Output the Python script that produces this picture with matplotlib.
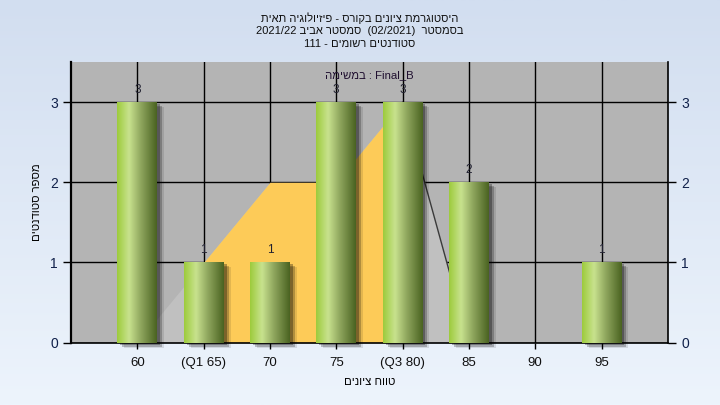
import re
import numpy as np
import matplotlib
matplotlib.use('Agg')
import matplotlib.pyplot as plt
from matplotlib.colors import LinearSegmentedColormap
from matplotlib.patches import Rectangle
from matplotlib import transforms

plt.rcParams['font.family'] = ['Liberation Sans', 'DejaVu Sans']

# data
categories = ['60', '(Q1 65)', '70', '75', '(Q3 80)', '85', '90', '95']
counts = [3, 1, 1, 3, 3, 2, 0, 1]
curve = [0, 1, 2, 2, 3, 0, 0, 0]
q1_idx = 1
q3_idx = 4

title_lines = ['היסטוגרמת ציונים בקורס - פיזיולוגיה תאית',
               'בסמסטר  (02/2021)  סמסטר אביב 2021/22',
               'סטודנטים רשומים - 111']
task_label = 'Final_B : במשימה'
x_title = 'טווח ציונים'
y_title = 'מספר סטודנטים'


def vis(s):
    # matplotlib has no bidi support, so put hebrew into visual order
    r = s[::-1]
    r = re.sub(r'[0-9A-Za-z_/.]+', lambda m: m.group(0)[::-1], r)
    return r.translate(str.maketrans('()', ')('))


fig = plt.figure(figsize=(7.2, 4.05), dpi=100)

# light blue background gradient
bg = fig.add_axes([0, 0, 1, 1], zorder=-10)
bg_cmap = LinearSegmentedColormap.from_list('bg', ['#d2def0', '#edf4fc'])
bg.imshow(np.linspace(0, 1, 256).reshape(-1, 1), cmap=bg_cmap, aspect='auto',
          extent=[0, 1, 0, 1])
bg.axis('off')

ax = fig.add_axes([0.0986, 0.154, 0.829, 0.6926])
ax.set_facecolor('#b4b4b4')

x = np.arange(len(categories))
cv = np.array(curve, dtype=float)

# curve area behind bars
ax.fill_between(x, 0, cv, color='#c0c0c0', lw=0, zorder=1)
mid = (x >= q1_idx) & (x <= q3_idx)
ax.fill_between(x[mid], 0, cv[mid], color='#fdcb58', lw=0, zorder=1.1)
ax.plot(x[q3_idx:q3_idx + 2], cv[q3_idx:q3_idx + 2], color='#3a3a3a', lw=1, zorder=1.2)

bar_cmap = LinearSegmentedColormap.from_list(
    'bar', [(0, '#9dcb3c'), (0.3, '#c8e28e'), (0.6, '#8fa65e'), (1, '#4a6321')])
grad = np.linspace(0, 1, 128).reshape(1, -1)

width = 0.6
bars = ax.bar(x, counts, width=width, color='none', zorder=3)
for b, c in zip(bars, counts):
    if c == 0:
        continue
    x0, w, h = b.get_x(), b.get_width(), b.get_height()
    # soft drop shadow
    for dx, dy, a in [(7, -5, 0.10), (5, -4, 0.22), (3, -2, 0.3)]:
        off = transforms.offset_copy(ax.transData, fig=fig, x=dx, y=dy, units='dots')
        ax.add_patch(Rectangle((x0, 0), w, h, transform=off, color='black',
                               alpha=a, lw=0, zorder=2, clip_on=False))
    ax.imshow(grad, cmap=bar_cmap, aspect='auto', extent=[x0, x0 + w, 0, h],
              zorder=3, interpolation='bilinear')
    ax.text(b.get_x() + w / 2, h + 0.15, str(c), ha='center', va='center',
            fontsize=8.5, color='#202030', zorder=5)

ax.set_xlim(-1, 8)
ax.set_ylim(0, 3.5)
ax.set_xticks(x)
ax.set_xticklabels(categories, fontsize=9.5, color='#101010')
ax.set_yticks([0, 1, 2, 3])
ax.tick_params(axis='y', labelsize=10, labelcolor='#10204a', length=6, width=1,
               right=True, labelright=True, direction='out')
ax.tick_params(axis='x', length=4, width=1, direction='out', pad=6)
ax.set_axisbelow(True)
ax.grid(True, color='black', lw=1)

for side in ['left', 'bottom', 'right']:
    ax.spines[side].set_color('black')
ax.spines['left'].set_linewidth(1.6)
ax.spines['bottom'].set_linewidth(1.2)
ax.spines['right'].set_linewidth(1.2)
ax.spines['top'].set_visible(False)

ax.text(0.5, 0.955, vis(task_label), transform=ax.transAxes, ha='center',
        va='center', fontsize=8.2, color='#201030', zorder=6)

ax.set_xlabel(vis(x_title), fontsize=8.2, labelpad=6)
ax.set_ylabel(vis(y_title), fontsize=8.2, labelpad=6)

for i, line in enumerate(title_lines):
    fig.text(0.5, 0.956 - i * 0.032, vis(line), ha='center', va='center',
             fontsize=8, color='#101010')

fig.savefig('out.png', dpi=100)
